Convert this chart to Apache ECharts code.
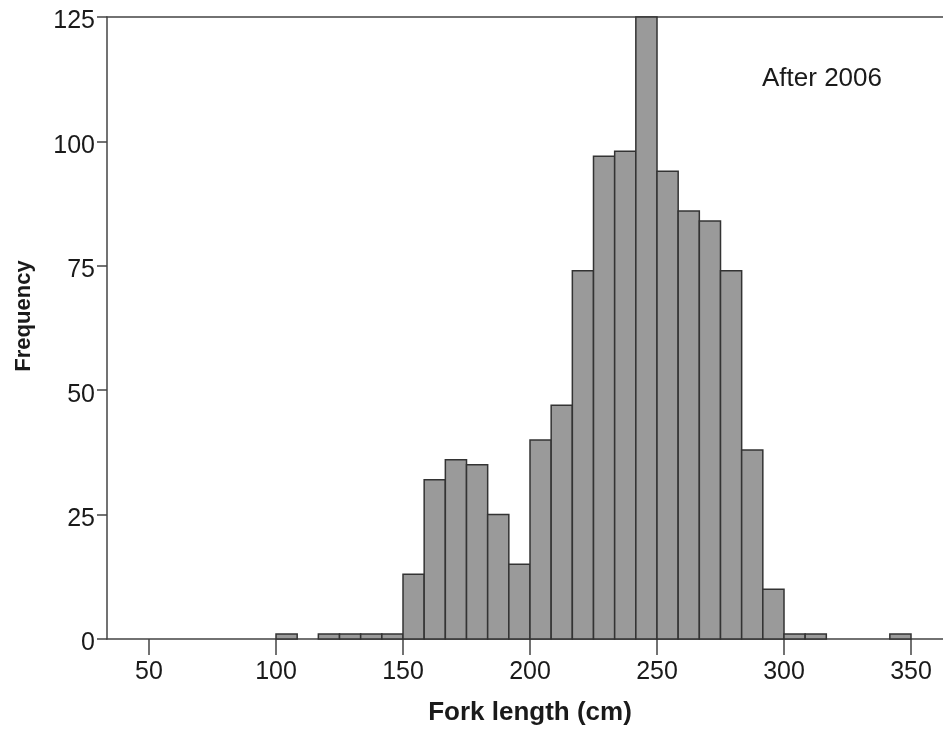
<!DOCTYPE html>
<html lang="en" style="height: 100%">

<head>
   <meta charset="utf-8">
   <style>
      html,
      body {
         margin: 0;
         padding: 0;
         width: 100%;
         height: 100%;
         overflow: hidden;
         background: #fff;
      }
   </style>
</head>

<body>
   <div id="container" style="height: 100%;width: 100%;"></div>

   <script type="text/javascript" src="https://cdn.jsdelivr.net/npm/echarts@6/dist/echarts.min.js"></script>
   <script type="text/javascript">

      var dom = document.getElementById('container');
      var myChart = echarts.init(dom, null, {
         renderer: 'canvas',
         useDirtyRect: false
      });

      // histogram bins (lower edge, cm) and counts
      let binWidth = 25 / 3;
      let binLow = [
         100.00, 116.67, 125.00, 133.33, 141.67,
         150.00, 158.33, 166.67, 175.00, 183.33, 191.67,
         200.00, 208.33, 216.67, 225.00, 233.33, 241.67,
         250.00, 258.33, 266.67, 275.00, 283.33, 291.67,
         300.00, 308.33, 341.67,
      ]
      let counts = [
         1, 1, 1, 1, 1,
         13, 32, 36, 35, 25, 15,
         40, 47, 74, 97, 98, 125,
         94, 86, 84, 74, 38, 10,
         1, 1, 1,
      ]
      let xTicks = [50, 100, 150, 200, 250, 300, 350]
      let xMin = 33.46, xMax = 362.6

      let font = '"Liberation Sans", Arial, sans-serif';
      let ink = '#1a1a1a';
      let lineCol = '#444';

      let data = binLow.map((lo, i) => [lo, lo + binWidth, counts[i]]);

      let option = {
         animation: false,
         title: {
            text: 'After 2006',
            left: 762,
            top: 66,
            padding: 0,
            textStyle: { fontFamily: font, fontWeight: 'normal', fontSize: 26, color: ink },
         },
         grid: { left: 107, right: 0, top: 17, bottom: 93 },
         xAxis: [
            {
               type: 'value',
               min: xMin,
               max: xMax,
               name: 'Fork length (cm)',
               nameLocation: 'middle',
               nameGap: 61,
               nameTextStyle: { fontFamily: font, fontWeight: 'bold', fontSize: 26, color: ink, padding: [0, 0, 0, 10] },
               axisLine: { lineStyle: { color: lineCol, width: 1.5 } },
               axisTick: { show: true, length: 16, lineStyle: { color: lineCol, width: 1.5 }, customValues: xTicks },
               axisLabel: { fontFamily: font, fontSize: 25, color: ink, margin: 21, customValues: xTicks },
               splitLine: { show: false },
            },
            {
               type: 'value',
               position: 'top',
               min: xMin,
               max: xMax,
               axisLine: { show: true, lineStyle: { color: lineCol, width: 1.5 } },
               axisTick: { show: false },
               axisLabel: { show: false },
               splitLine: { show: false },
            },
         ],
         yAxis: {
            type: 'value',
            min: 0,
            max: 125,
            interval: 25,
            name: 'Frequency',
            nameLocation: 'middle',
            nameGap: 72,
            nameTextStyle: { fontFamily: font, fontWeight: 'bold', fontSize: 22, color: ink, padding: [0, 0, 0, 24] },
            axisLine: { show: true, lineStyle: { color: lineCol, width: 1.5 } },
            axisTick: { show: true, length: 10, lineStyle: { color: lineCol, width: 1.5 } },
            axisLabel: { fontFamily: font, fontSize: 25, color: ink, margin: 12, verticalAlign: 'top', lineHeight: 9 },
            splitLine: { show: false },
         },
         series: [
            {
               type: 'custom',
               xAxisIndex: 0,
               clip: false,
               encode: { x: [0, 1], y: 2 },
               data: data,
               renderItem: function (params, api) {
                  let p0 = api.coord([api.value(0), api.value(2)]);
                  let p1 = api.coord([api.value(1), 0]);
                  return {
                     type: 'rect',
                     shape: { x: p0[0], y: p0[1], width: p1[0] - p0[0], height: p1[1] - p0[1] },
                     style: { fill: '#9a9a9a', stroke: '#333', lineWidth: 1.5 },
                  };
               },
            },
         ],
      };

      myChart.setOption(option);

      window.addEventListener('resize', myChart.resize);

   </script>
</body>

</html>
